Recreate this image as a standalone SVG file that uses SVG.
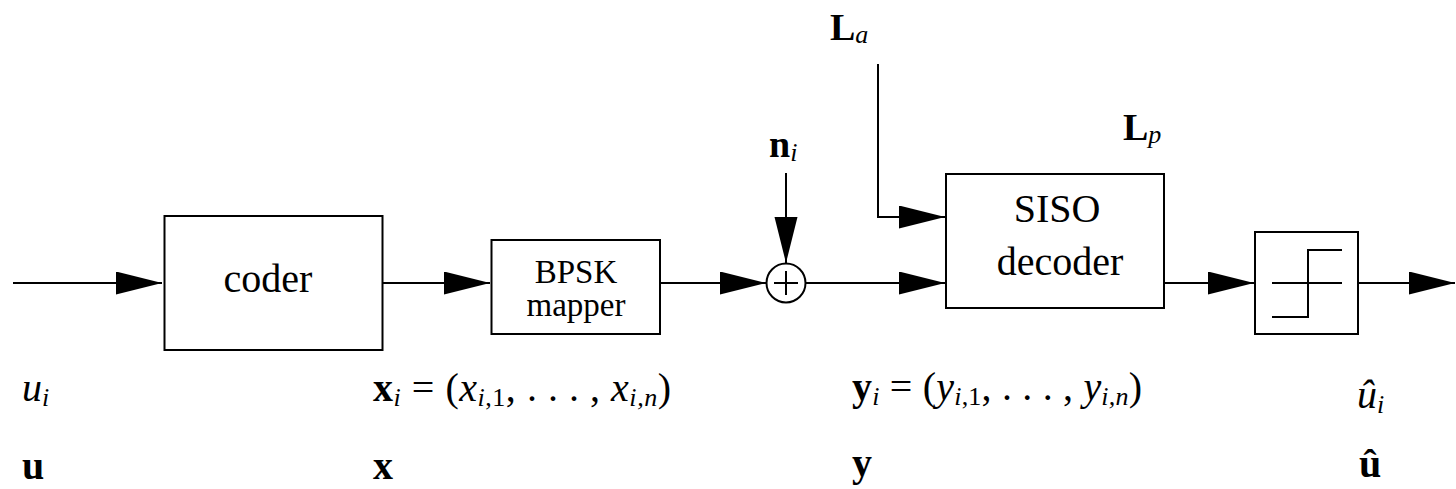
<svg xmlns="http://www.w3.org/2000/svg" width="1456" height="489" viewBox="0 0 1456 489">
<defs>
<marker id="ah" markerUnits="userSpaceOnUse" markerWidth="48" markerHeight="25" refX="46" refY="11.5" orient="auto">
<path d="M0,0 L46,11.5 L0,23 Z" fill="#000"/>
</marker>
<style>
.box{fill:#fff;stroke:#000;stroke-width:2}
.wire{fill:none;stroke:#000;stroke-width:2}
text{fill:#000}
.big{font-size:40px}
.mid{font-size:33px}
.m{font-size:40px}
.it{font-style:italic}
.b{font-weight:bold}
.sub{font-size:26px;font-style:italic}
</style>
</defs>
<rect width="1456" height="489" fill="#fff"/>
<g id="connectors">
<path class="wire" d="M13,283 H162" marker-end="url(#ah)"/>
<path class="wire" d="M382,283 H490" marker-end="url(#ah)"/>
<path class="wire" d="M660,283 H766" marker-end="url(#ah)"/>
<path class="wire" d="M786,173 V263" marker-end="url(#ah)"/>
<path class="wire" d="M806,283 H945" marker-end="url(#ah)"/>
<path class="wire" d="M878,64 V217 H945" marker-end="url(#ah)"/>
<path class="wire" d="M1164,283 H1254" marker-end="url(#ah)"/>
<path class="wire" d="M1358,283 H1455" marker-end="url(#ah)"/>
</g>
<g id="coder">
<rect class="box" x="164.5" y="216" width="218" height="134"/>
<text class="big" font-family="Liberation Serif" x="268" y="292" text-anchor="middle">coder</text>
</g>
<g id="bpsk">
<rect class="box" x="491.5" y="240" width="168.5" height="94"/>
<text class="mid" font-family="Liberation Serif" x="576" y="283" text-anchor="middle">BPSK</text>
<text class="mid" font-family="Liberation Serif" x="576" y="316" text-anchor="middle">mapper</text>
</g>
<g id="sum">
<circle class="box" cx="786" cy="283" r="19.5"/>
<path class="wire" d="M774,283 H798 M786,271 V295"/>
</g>
<g id="siso">
<rect class="box" x="946" y="174" width="218" height="134"/>
<text class="big" font-family="Liberation Serif" x="1057" y="222" text-anchor="middle">SISO</text>
<text class="big" font-family="Liberation Serif" x="1060" y="275" text-anchor="middle">decoder</text>
</g>
<g id="limiter">
<rect class="box" x="1255" y="232" width="103" height="102"/>
<path class="wire" d="M1272,283 H1342 M1272,317 H1308 V250 H1342"/>
</g>
<g id="labels" font-family="Liberation Serif">
<text x="830" y="40" font-family="Liberation Serif"><tspan class="b" font-size="38">L</tspan><tspan class="sub" dy="3">a</tspan></text>
<text x="1123" y="140" font-family="Liberation Serif"><tspan class="b" font-size="38">L</tspan><tspan class="sub" dy="3">p</tspan></text>
<text x="769" y="157" font-family="Liberation Serif"><tspan class="b" font-size="38">n</tspan><tspan class="sub" dy="4">i</tspan></text>
<text class="m" font-family="Liberation Serif" x="22" y="401"><tspan class="it">u</tspan><tspan class="sub" dy="5">i</tspan></text>
<text class="m" font-family="Liberation Serif" x="373" y="401" textLength="298" lengthAdjust="spacing"><tspan class="b">x</tspan><tspan class="sub" dy="5">i</tspan><tspan dy="-5"> = (</tspan><tspan class="it">x</tspan><tspan class="sub" dy="5">i</tspan><tspan font-size="26" font-style="normal">,1</tspan><tspan dy="-5">, . . . , </tspan><tspan class="it">x</tspan><tspan class="sub" dy="5">i,n</tspan><tspan dy="-5">)</tspan></text>
<text class="m" font-family="Liberation Serif" x="852" y="400" textLength="290" lengthAdjust="spacing"><tspan class="b">y</tspan><tspan class="sub" dy="5">i</tspan><tspan dy="-5"> = (</tspan><tspan class="it">y</tspan><tspan class="sub" dy="5">i</tspan><tspan font-size="26" font-style="normal">,1</tspan><tspan dy="-5">, . . . , </tspan><tspan class="it">y</tspan><tspan class="sub" dy="5">i,n</tspan><tspan dy="-5">)</tspan></text>
<text class="m" font-family="Liberation Serif" x="1357" y="408"><tspan class="it">û</tspan><tspan class="sub" dy="5">i</tspan></text>
<text class="m b" font-family="Liberation Serif" x="22" y="479">u</text>
<text class="m b" font-family="Liberation Serif" x="373" y="479">x</text>
<text class="m b" font-family="Liberation Serif" x="852" y="476">y</text>
<text class="m b" font-family="Liberation Serif" x="1359" y="477">û</text>
</g>
</svg>
